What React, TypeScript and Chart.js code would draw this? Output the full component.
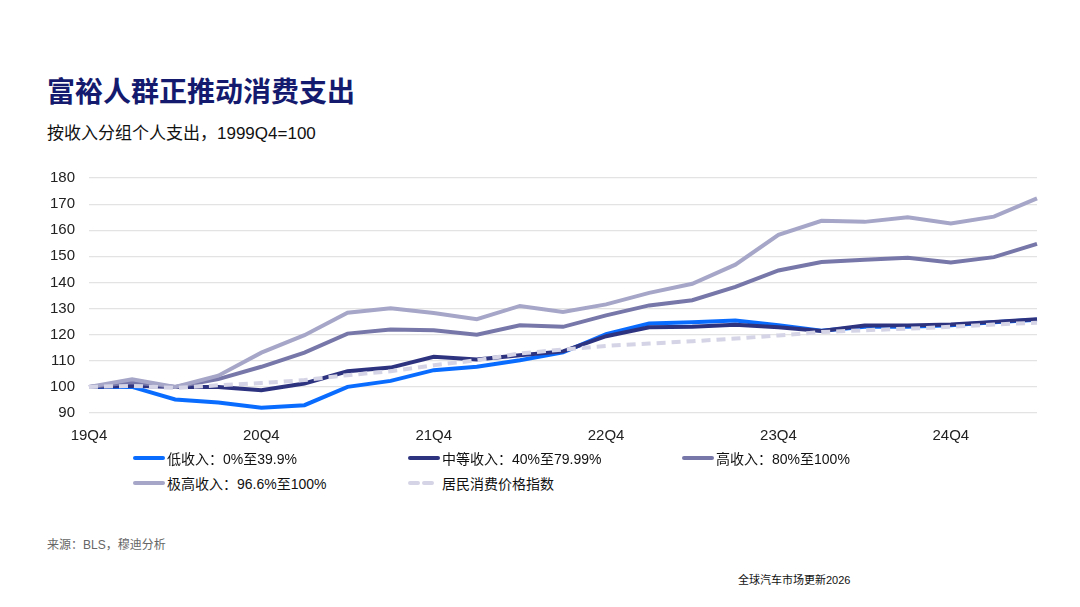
import React, { useEffect, useRef } from 'react';
import { Chart, registerables } from 'chart.js';

Chart.register(...registerables);

// 季度标签 19Q4 - 25Q2
const quarters = [
  '19Q4', '20Q1', '20Q2', '20Q3', '20Q4', '21Q1', '21Q2', '21Q3', '21Q4',
  '22Q1', '22Q2', '22Q3', '22Q4', '23Q1', '23Q2', '23Q3', '23Q4',
  '24Q1', '24Q2', '24Q3', '24Q4', '25Q1', '25Q2',
];

const lowIncome = [
  100, 100, 95.2, 94, 92, 93, 100, 102.3, 106.4, 107.7, 110.2, 113.2,
  120.2, 124.3, 124.8, 125.4, 123.6, 121.5, 123, 123, 123.6, 124.8, 125.7,
];
const midIncome = [
  100, 100.4, 100, 100, 98.7, 101.3, 106, 107.4, 111.5, 110.5, 112.1, 113.6,
  119.4, 122.8, 123, 123.8, 122.8, 121.4, 123.5, 123.5, 123.9, 124.9, 125.9,
];
const highIncome = [
  100, 101.8, 100, 103, 107.7, 113.1, 120.4, 122, 121.7, 120, 123.6, 123,
  127.4, 131.2, 133.2, 138.3, 144.6, 147.8, 148.7, 149.5, 147.6, 149.7, 154.8,
];
const topIncome = [
  100, 102.9, 100, 104.3, 113.1, 119.8, 128.4, 130.1, 128.3, 125.9, 131, 128.7,
  131.6, 136, 139.5, 146.8, 158.2, 163.6, 163.2, 165, 162.6, 165.2, 172.2,
];
const cpi = [
  100, 100.4, 99.6, 100.6, 101.5, 102.6, 104.5, 106, 108.3, 110.2, 112.8, 114.3,
  115.7, 116.6, 117.5, 118.5, 119.7, 121, 121.7, 122.3, 123, 123.9, 124.6,
];

const yTicks = [90, 100, 110, 120, 130, 140, 150, 160, 170, 180];
const xTickEvery = 4;

const FONT = '"Liberation Sans", Arial, "Noto Sans CJK SC", sans-serif';

const C_LOW = '#0a6cff';
const C_MID = '#2e3380';
const C_HIGH = '#7777a9';
const C_TOP = '#a6a6c8';
const C_CPI = '#d4d4e6';

const legendItems = [
  { label: '低收入：0%至39.9%', color: C_LOW, dashed: false, x: 133, y: 458 },
  { label: '中等收入：40%至79.99%', color: C_MID, dashed: false, x: 408, y: 458 },
  { label: '高收入：80%至100%', color: C_HIGH, dashed: false, x: 682, y: 458 },
  { label: '极高收入：96.6%至100%', color: C_TOP, dashed: false, x: 133, y: 483 },
  { label: '居民消费价格指数', color: C_CPI, dashed: true, x: 408, y: 483 },
];

const App: React.FC = () => {
  const canvasRef = useRef<HTMLCanvasElement | null>(null);

  useEffect(() => {
    document.body.style.margin = '0';
    if (!canvasRef.current) return;
    const ctx = canvasRef.current.getContext('2d');
    if (!ctx) return;

    const line = (label: string, data: number[], color: string, order: number, dash?: number[]) => ({
      label,
      data,
      borderColor: color,
      backgroundColor: color,
      borderWidth: 4,
      borderDash: dash || [],
      pointRadius: 0,
      tension: 0,
      fill: false,
      order,
    });

    const chart = new Chart(ctx, {
      type: 'line',
      data: {
        labels: quarters,
        datasets: [
          line('低收入', lowIncome, C_LOW, 4),
          line('中等收入', midIncome, C_MID, 3),
          line('高收入', highIncome, C_HIGH, 2),
          line('极高收入', topIncome, C_TOP, 1),
          line('居民消费价格指数', cpi, C_CPI, 0, [9, 6]),
        ],
      },
      options: {
        animation: false,
        responsive: false,
        layout: { padding: { left: 0, right: 13, top: 18, bottom: 0 } },
        plugins: {
          legend: { display: false },
          tooltip: { enabled: false },
        },
        scales: {
          x: {
            offset: false,
            grid: { display: false },
            border: { display: false },
            ticks: {
              autoSkip: false,
              maxRotation: 0,
              padding: 6,
              color: '#222',
              font: { family: FONT, size: 15 },
              callback: (_v, i) => (i % xTickEvery === 0 ? quarters[i] : ''),
            },
            afterFit: (s: any) => { s.height = 42; },
          },
          y: {
            min: yTicks[0],
            max: yTicks[yTicks.length - 1],
            afterBuildTicks: (s: any) => { s.ticks = yTicks.map((v) => ({ value: v })); },
            grid: { color: '#e3e3e3', lineWidth: 1.2, drawTicks: false },
            border: { display: false },
            ticks: {
              padding: 14,
              color: '#222',
              font: { family: FONT, size: 15 },
            },
            afterFit: (s: any) => { s.width = 59; },
          },
        },
      },
    });

    return () => {
      chart.destroy();
    };
  }, []);

  return (
    <div style={{ position: 'relative', width: 1080, height: 607, background: '#fff', fontFamily: FONT, overflow: 'hidden' }}>
      <div style={{ position: 'absolute', left: 47, top: 73, fontSize: 28, fontWeight: 'bold', color: '#141a6e', fontFamily: '"Noto Sans CJK SC", sans-serif', lineHeight: '34px' }}>
        富裕人群正推动消费支出
      </div>
      <div style={{ position: 'absolute', left: 47, top: 123, fontSize: 17, color: '#111', lineHeight: '22px' }}>
        按收入分组个人支出，1999Q4=100
      </div>
      <canvas ref={canvasRef} width={1020} height={300} style={{ position: 'absolute', left: 30, top: 155, width: 1020, height: 300 }} />
      {legendItems.map((it) => (
        <div key={it.label} style={{ position: 'absolute', left: it.x, top: it.y - 10, height: 20, display: 'flex', alignItems: 'center', fontSize: 14, color: '#111', whiteSpace: 'nowrap' }}>
          <svg width={32} height={6} style={{ marginRight: 2 }}>
            <line x1={2} y1={3} x2={30} y2={3} stroke={it.color} strokeWidth={4} strokeLinecap="round" strokeDasharray={it.dashed ? '8 6' : undefined} />
          </svg>
          <span>{it.label}</span>
        </div>
      ))}
      <div style={{ position: 'absolute', left: 47, top: 535, fontSize: 12, color: '#666' }}>
        来源：BLS，穆迪分析
      </div>
      <div style={{ position: 'absolute', left: 738, top: 571, fontSize: 11, color: '#111' }}>
        全球汽车市场更新2026
      </div>
    </div>
  );
};

export default App;
